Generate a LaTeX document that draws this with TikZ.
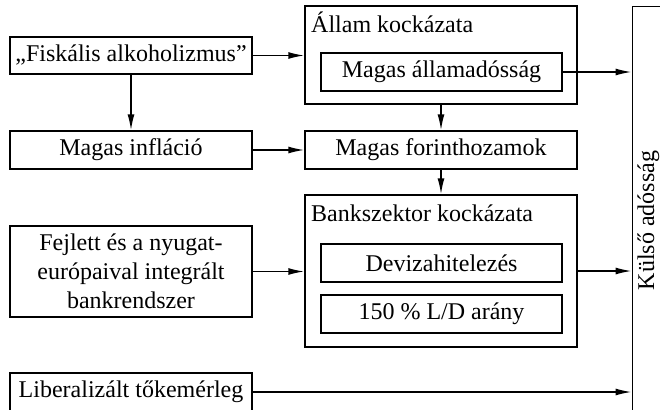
\documentclass[tikz,border=0pt]{standalone}
\usepackage{fontspec}
\setmainfont{Liberation Serif}
\usetikzlibrary{arrows.meta}
\begin{document}
\begin{tikzpicture}[x=1pt,y=-1pt,
  every node/.style={font=\fontsize{24}{29}\selectfont, inner sep=0pt},
  box/.style={draw, line width=1.5pt, rectangle, minimum height=38pt, align=center},
  lbox/.style={box, minimum width=242pt},
  rbox/.style={box, minimum width=272pt},
  ibox/.style={box, minimum width=241pt},
  lbl/.style={anchor=base west},
  arr/.style={line width=1.5pt, -{Latex[length=16pt,width=7pt]}}
]
\path[use as bounding box, clip] (0,0) rectangle (660,409);
% left column
\node[lbox, minimum height=37pt] (fisk) at (131,55.5) {„Fiskális alkoholizmus”};
\node[lbox] (infl) at (131,150) {Magas infláció};
\node[lbox, minimum height=91pt] (fejl) at (131,271.5) {Fejlett és a nyugat-\\európaival integrált\\bankrendszer};
\node[lbox] (lib) at (131,392) {Liberalizált tőkemérleg};
% middle column
\node[rbox, minimum height=98pt] (allam) at (441,55) {};
\node[lbl] (allamlbl) at (311,33) {Állam kockázata};
\node[ibox] (adossag) at (441.5,72) {Magas államadósság};
\node[rbox] (forint) at (441,150) {Magas forinthozamok};
\node[rbox, minimum height=152pt] (bank) at (441,271) {};
\node[lbl] (banklbl) at (311,221) {Bankszektor kockázata};
\node[ibox] (deviza) at (441.5,263) {Devizahitelezés};
\node[ibox] (arany) at (441.5,314) {150 \% L/D arány};
% right column
\node[draw, line width=1.5pt, minimum width=80pt, minimum height=420pt, anchor=north west] (kulso) at (631.5,6) {};
\node[rotate=90, anchor=base] (kulsolbl) at (654,220.5) {Külső adósság};
% connectors
\draw[arr] (fisk.east) -- (fisk.east -| allam.west);
\draw[arr] (fisk.south) -- (infl.north);
\draw[arr] (infl.east) -- (forint.west);
\draw[arr] (fejl.east) -- (fejl.east -| bank.west);
\draw[arr] (allam.south) -- (forint.north);
\draw[arr] (forint.south) -- (bank.north);
\draw[arr] (adossag.east) -- (adossag.east -| kulso.west);
\draw[arr] (bank.east) -- (bank.east -| kulso.west);
\draw[arr] (lib.east) -- (lib.east -| kulso.west);
\end{tikzpicture}
\end{document}
